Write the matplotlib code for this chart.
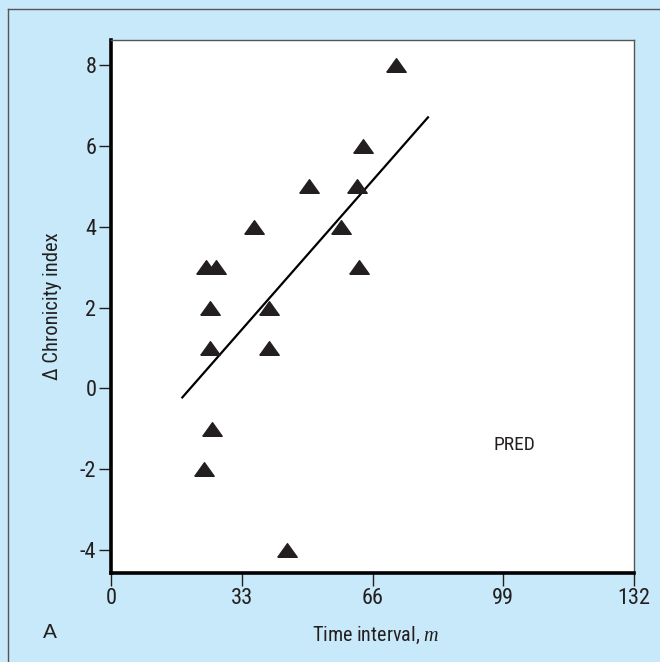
import matplotlib
matplotlib.use('Agg')
import matplotlib.pyplot as plt
from matplotlib.lines import Line2D
import numpy as np

# data
time_interval = [72, 63.5, 62, 50, 58, 36, 62.5, 24, 26.5, 25, 40, 25, 40, 25.5, 23.5, 44.5]
chronicity_delta = [8, 6, 5, 5, 4, 4, 3, 3, 3, 2, 2, 1, 1, -1, -2, -4]
fit_range = [18, 80]
x_ticks = [0, 33, 66, 99, 132]
y_ticks = [-4, -2, 0, 2, 4, 6, 8]

narrow = ['Roboto Condensed', 'Liberation Sans Narrow', 'DejaVu Sans Condensed', 'Roboto', 'DejaVu Sans']
plt.rcParams['axes.unicode_minus'] = False
plt.rcParams['mathtext.fontset'] = 'custom'
plt.rcParams['mathtext.it'] = 'Liberation Serif:italic'

bg = '#c8e9f9'
ink = '#231f20'
fig = plt.figure(figsize=(6.6, 6.62), dpi=100)
fig.patch.set_facecolor(bg)
ax = fig.add_axes([111/660, 1 - 573/662, 523/660, 533/662])
ax.set_facecolor('white')

# triangle marker, wider than tall
tri = [(-1, -0.7), (1, -0.7), (0, 0.7), (-1, -0.7)]
ax.plot(time_interval, chronicity_delta, linestyle='none', marker=tri,
        markersize=14, color=ink, zorder=3, clip_on=False)

# regression line
slope, icpt = np.polyfit(time_interval, chronicity_delta, 1)
fx = np.array(fit_range)
ax.plot(fx, slope * fx + icpt, color='black', lw=1.6, zorder=2)

ax.text(101.8, -1.4, 'PRED', ha='center', va='center', fontsize=14,
        family=narrow, stretch='condensed', color=ink)

ax.set_xlim(0, 132)
ax.set_ylim(-4.57, 8.62)
ax.set_xticks(x_ticks)
ax.set_yticks(y_ticks)
ax.tick_params(direction='out', length=9, width=1, color=ink,
               labelsize=16, labelcolor=ink, pad=1.5)
for lab in ax.get_xticklabels() + ax.get_yticklabels():
    lab.set_family(narrow)
    lab.set_stretch('condensed')

for s in ['left', 'bottom']:
    ax.spines[s].set_linewidth(2.6)
    ax.spines[s].set_color('black')
for s in ['top', 'right']:
    ax.spines[s].set_linewidth(1)
    ax.spines[s].set_color('#555555')

ax.set_xlabel('Time interval, $m$', fontsize=14.5, family=narrow,
              stretch='condensed', color=ink)
ax.xaxis.set_label_coords(0.506, -0.097)
ax.set_ylabel('\u0394 Chronicity index', fontsize=14.8, family=narrow,
              stretch='condensed', color=ink)
ax.yaxis.set_label_coords(-0.094, 0.5)

fig.text(49.5/660, 1 - 632/662, 'A', ha='center', va='center', fontsize=15,
         family='Liberation Sans', color=ink)

# frame lines on left and top of the figure
fig.add_artist(Line2D([8/660, 8/660], [0, 1 - 9/662], color='#555555', lw=1,
                      transform=fig.transFigure))
fig.add_artist(Line2D([8/660, 1], [1 - 9/662, 1 - 9/662], color='#555555', lw=1,
                      transform=fig.transFigure))

fig.savefig('out.png', dpi=100, facecolor=bg)
